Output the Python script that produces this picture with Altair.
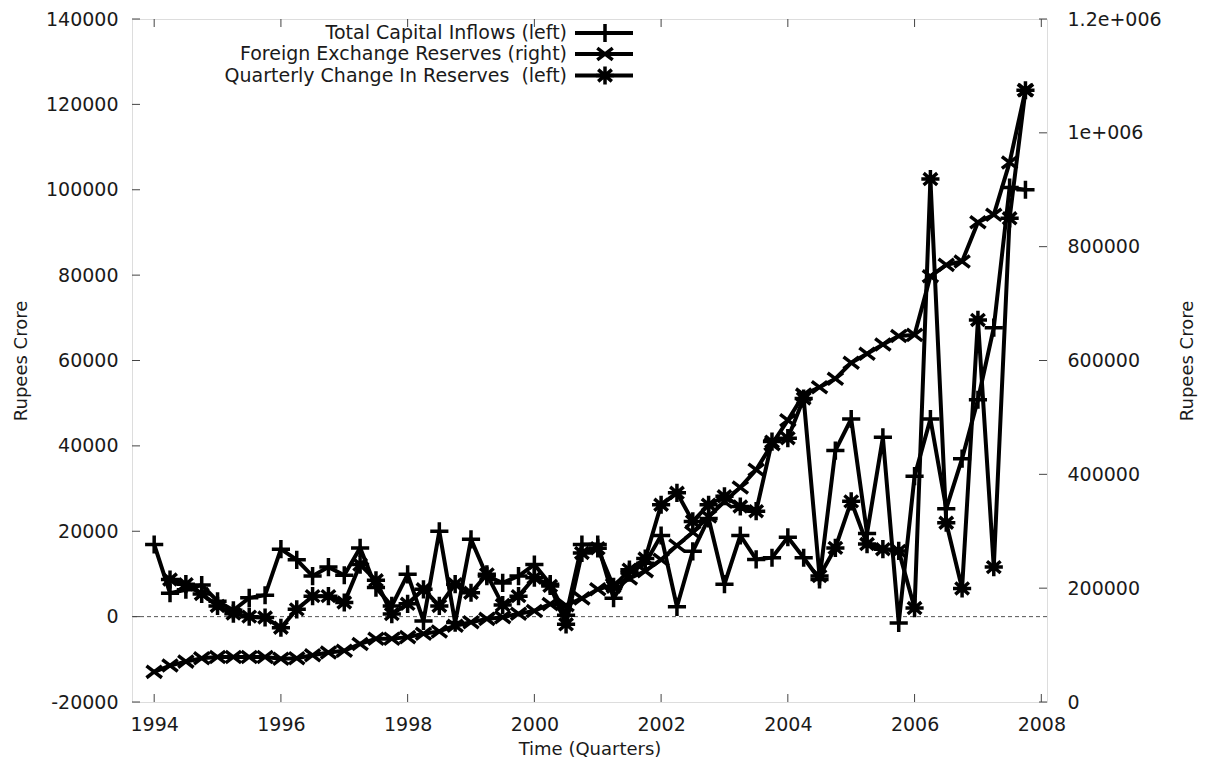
import altair as alt
import pandas as pd

# ---------------- data (Rupees crore) ----------------
years_start = 1994
n_quarters = 56
quarters = [years_start + q / 4 for q in range(n_quarters)]

capital_inflows = [16900, 5500, 6300, 7400, 3600, 1500, 4400, 5000, 15800, 13300,
                   9500, 11600, 9700, 16100, 6800, 2500, 9900, -1000, 20000, -1400,
                   18100, 9500, 7900, 9500, 12200, 7600, 300, 16900, 16900, 4300,
                   10300, 12500, 19000, 2300, 15300, 23000, 7600, 19000, 13400, 13800,
                   18600, 13800, 8700, 38900, 46300, 19500, 42000, -1500, 32900, 46300,
                   25300, 37000, 50800, 67700, 100500, 100000]

fx_reserves = [53000, 64000, 71000, 77000, 79000, 79000, 79000, 79000, 76000, 77000,
               82000, 87000, 90000, 102000, 111000, 111000, 114000, 120000, 124000, 134000,
               140000, 146000, 149000, 155000, 160000, 172000, 170000, 182000, 198000, 206000,
               217000, 230000, 250000, 275000, 298000, 326000, 352000, 377000, 408000, 453000,
               495000, 540000, 553000, 568000, 596000, 612000, 628000, 643000, 645000, 748000,
               768000, 774000, 843000, 856000, 948000, 1075000]

reserve_change = [None, 8700, 7600, 5300, 2500, 700, 0, -200, -2600, 1700,
                  4800, 4800, 3300, 12200, 8500, 600, 3000, 6400, 2500, 7600,
                  5600, 9900, 2700, 4800, 9100, 7200, -1800, 14900, 16000, 7000,
                  11000, 13600, 26200, 29000, 22300, 26200, 28200, 25800, 24700, 41000,
                  41800, 51100, 9500, 16100, 27000, 17000, 15800, 15400, 2000, 102500,
                  22000, 6600, 69500, 11600, 93300, 123300]

x_ticks = [1994, 1996, 1998, 2000, 2002, 2004, 2006, 2008]
left_ticks = [-20000, 0, 20000, 40000, 60000, 80000, 100000, 120000, 140000]
right_ticks = [0, 200000, 400000, 600000, 800000, 1000000, 1200000]

names = ["Total Capital Inflows (left)",
         "Foreign Exchange Reserves (right)",
         "Quarterly Change In Reserves \u00a0(left)"]

# ---------------- styling ----------------
W, H = 915, 683
FONT = "DejaVu Sans"
TXT = "#1a1a1a"
LFS = 19   # tick label / key font size
TFS = 18   # axis title font size

PLUS = "M-1,0L1,0M0,-1L0,1"
CROSS = "M-0.85,-0.65L0.85,0.65M-0.85,0.65L0.85,-0.65"
STAR = "M-1,0L1,0M0,-1L0,1M-0.75,-0.65L0.75,0.65M-0.75,0.65L0.75,-0.65"
MSIZE = 330

xscale = alt.Scale(domain=[1993.65, 2008.09], nice=False, zero=False)
lscale = alt.Scale(domain=[-20000, 140000], nice=False, zero=False)
rscale = alt.Scale(domain=[0, 1200000], nice=False, zero=False)

x_axis = alt.Axis(values=x_ticks, format="d", title="Time (Quarters)", grid=False,
                  domain=False, ticks=True, tickSize=0, labelPadding=13,
                  labelFont=FONT, labelFontSize=LFS, labelColor=TXT, labelFlush=False,
                  titleFont=FONT, titleFontSize=TFS, titleFontWeight="normal",
                  titleColor=TXT, titlePadding=6)

left_axis = alt.Axis(values=left_ticks, title="Rupees Crore", grid=False,
                     domain=False, ticks=True, tickSize=0, labelPadding=14,
                     labelExpr="datum.value < 0 ? '-' + format(-datum.value, 'd') : format(datum.value, 'd')",
                     labelFont=FONT, labelFontSize=LFS, labelColor=TXT, labelFlush=False,
                     titleFont=FONT, titleFontSize=TFS, titleFontWeight="normal",
                     titleColor=TXT, titlePadding=15)

right_axis = alt.Axis(values=right_ticks, orient="right", title="Rupees Crore", grid=False,
                      domain=False, ticks=True, tickSize=0, labelPadding=20,
                      labelExpr="datum.value == 1000000 ? '1e+006' : datum.value == 1200000 ? '1.2e+006' : format(datum.value, 'd')",
                      labelFont=FONT, labelFontSize=LFS, labelColor=TXT, labelFlush=False,
                      titleFont=FONT, titleFontSize=TFS, titleFontWeight="normal",
                      titleColor=TXT, titlePadding=35, titleAngle=270)


def X(field):
    return alt.X(field, type="quantitative", scale=xscale, axis=x_axis)


df_in = pd.DataFrame({"t": quarters, "v": capital_inflows})
df_fx = pd.DataFrame({"t": quarters, "v": fx_reserves})
df_ch = pd.DataFrame({"t": quarters, "v": reserve_change}).dropna()

line_kw = dict(color="black", strokeWidth=4)
pt_kw = dict(filled=False, stroke="black", strokeWidth=3.5, size=MSIZE, opacity=1)

# zero line (left scale)
zero = alt.Chart(pd.DataFrame({"v": [0]})).mark_rule(
    color="#555", strokeWidth=1, strokeDash=[4, 3]).encode(
    y=alt.Y("v:Q", scale=lscale, axis=None))

inflow_line = alt.Chart(df_in).mark_line(**line_kw).encode(
    x=X("t"), y=alt.Y("v:Q", scale=lscale, axis=left_axis))
inflow_pts = alt.Chart(df_in).mark_point(shape=PLUS, **pt_kw).encode(
    x=X("t"), y=alt.Y("v:Q", scale=lscale, axis=None))

fx_line = alt.Chart(df_fx).mark_line(**line_kw).encode(
    x=X("t"), y=alt.Y("v:Q", scale=rscale, axis=right_axis))
fx_pts = alt.Chart(df_fx).mark_point(shape=CROSS, **pt_kw).encode(
    x=X("t"), y=alt.Y("v:Q", scale=rscale, axis=None))

ch_line = alt.Chart(df_ch).mark_line(**line_kw).encode(
    x=X("t"), y=alt.Y("v:Q", scale=lscale, axis=None))
ch_pts = alt.Chart(df_ch).mark_point(shape=STAR, **pt_kw).encode(
    x=X("t"), y=alt.Y("v:Q", scale=lscale, axis=None))

# inward tick marks (gnuplot style)
TICK = 8
tick_kw = dict(color="#444", strokeWidth=1)
lt = alt.Chart(pd.DataFrame({"v": left_ticks})).mark_rule(**tick_kw).encode(
    y=alt.Y("v:Q", scale=lscale, axis=None), x=alt.value(0), x2=alt.value(TICK))
rt = alt.Chart(pd.DataFrame({"v": right_ticks})).mark_rule(**tick_kw).encode(
    y=alt.Y("v:Q", scale=rscale, axis=None), x=alt.value(W), x2=alt.value(W - TICK))
bt = alt.Chart(pd.DataFrame({"v": x_ticks})).mark_rule(**tick_kw).encode(
    x=X("v"), y=alt.value(H), y2=alt.value(H - TICK))
tt = alt.Chart(pd.DataFrame({"v": x_ticks})).mark_rule(**tick_kw).encode(
    x=X("v"), y=alt.value(0), y2=alt.value(TICK))

# key (top, text right-aligned, sample line with symbol)
KEY_TEXT_X = 435
KEY_L0, KEY_L1, KEY_M = 443, 501, 473
key_rows = [14, 35, 56.5]
shapes = [PLUS, CROSS, STAR]
key_layers = []
for name, yy, shp in zip(names, key_rows, shapes):
    d = pd.DataFrame({"label": [name]})
    key_layers.append(alt.Chart(d).mark_text(
        align="right", baseline="middle", font=FONT, fontSize=LFS, color=TXT).encode(
        text="label:N", x=alt.value(KEY_TEXT_X), y=alt.value(yy)))
    key_layers.append(alt.Chart(d).mark_rule(color="black", strokeWidth=4).encode(
        x=alt.value(KEY_L0), x2=alt.value(KEY_L1), y=alt.value(yy)))
    key_layers.append(alt.Chart(d).mark_point(shape=shp, **pt_kw).encode(
        x=alt.value(KEY_M), y=alt.value(yy)))

chart = alt.layer(
    zero, lt, rt, bt, tt,
    inflow_line, inflow_pts,
    fx_line, fx_pts,
    ch_line, ch_pts,
    *key_layers,
).resolve_scale(y="independent").properties(
    width=W, height=H,
    autosize=alt.AutoSizeParams(type="none"),
    padding={"left": 124, "top": 11, "right": 152, "bottom": 59},
).configure_view(stroke="black", strokeWidth=1.2).configure(font=FONT)

chart.save("out.html", embed_options={"renderer": "svg", "actions": False})
